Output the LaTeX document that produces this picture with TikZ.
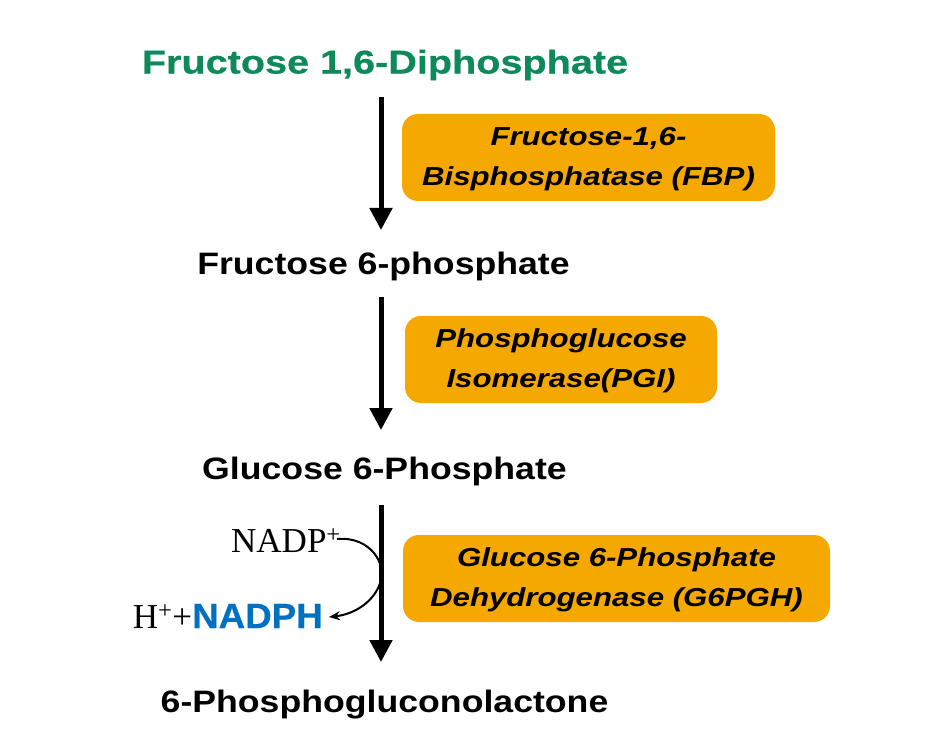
\documentclass[tikz,border=0pt]{standalone}
\usepackage{fontspec}
\setmainfont{Liberation Sans}
\newfontfamily\timesf{Liberation Serif}
\newfontfamily\widesans[FakeStretch=1.15]{Liberation Sans}
\newfontfamily\widergreen[FakeStretch=1.20,FakeBold=0.6]{Liberation Sans}
\newfontfamily\widenz[FakeStretch=1.2]{Liberation Sans}
\newfontfamily\wideblue[FakeStretch=1.05,FakeBold=0.4]{Liberation Sans}
\usetikzlibrary{arrows.meta}
\definecolor{fgreen}{HTML}{0E8A5A}
\definecolor{forange}{HTML}{F5A800}
\definecolor{fblue}{HTML}{0070C0}
\newcommand{\enzlines}[2]{\raisebox{-4pt}{\begin{tabular}{@{}c@{}}#1\\#2\end{tabular}}}
\begin{document}
\begin{tikzpicture}[x=1pt,y=-1pt,
  met/.style={font=\widesans\fontsize{31}{34}\selectfont\bfseries, inner sep=0pt},
  enz/.style={fill=forange, rounded corners=16pt, font=\widenz\fontsize{26}{40}\selectfont\bfseries\itshape, align=center, inner sep=0pt, minimum height=87pt},
  mainarrow/.style={line width=5pt, -{Triangle[length=22pt,width=22pt]}},
  side/.style={line width=2pt, -{Stealth[length=11pt,width=9pt]}}]
\useasboundingbox (0,0) rectangle (939,735);
\node[met, text=fgreen, font=\widergreen\fontsize{33}{36}\selectfont\bfseries] (f16) at (385,65) {Fructose 1,6-Diphosphate};
\node[met] (f6) at (383.5,266) {Fructose 6-phosphate};
\node[met] (g6) at (384.5,471) {Glucose 6-Phosphate};
\node[met] (pgl) at (384.5,705) {6-Phosphogluconolactone};
\coordinate (a1s) at (381,97); \coordinate (a1e) at (381,230);
\coordinate (a2s) at (381,297); \coordinate (a2e) at (381,430);
\coordinate (a3s) at (381,505); \coordinate (a3e) at (381,662);
\draw[mainarrow] (a1s) -- (a1e);
\draw[mainarrow] (a2s) -- (a2e);
\draw[mainarrow] (a3s) -- (a3e);
\node[enz, minimum width=373pt] (e1) at (588.5,157.5) {\enzlines{Fructose-1,6-}{Bisphosphatase (FBP)}};
\node[enz, minimum width=312pt] (e2) at (561,359.5) {\enzlines{Phosphoglucose}{Isomerase(PGI)}};
\node[enz, minimum width=427pt] (e3) at (616.5,578.5) {\enzlines{Glucose 6-Phosphate}{Dehydrogenase (G6PGH)}};
\node[inner sep=0pt, anchor=base east, font=\timesf\fontsize{35}{38}\selectfont] (nadp) at (341,552) {NADP\textsuperscript{+}};
\node[inner sep=0pt, anchor=base east, font=\fontsize{35}{38}\selectfont] (nadph) at (323,628) {{\timesf H\textsuperscript{+}+}\textcolor{fblue}{\wideblue\bfseries NADPH}};
\coordinate (c1) at (337,539);
\coordinate (c2) at (329,617);
\draw[side] (c1) .. controls (372,536) and (386,566) .. (381,580) .. controls (376,600) and (356,614) .. (c2);
\end{tikzpicture}
\end{document}
